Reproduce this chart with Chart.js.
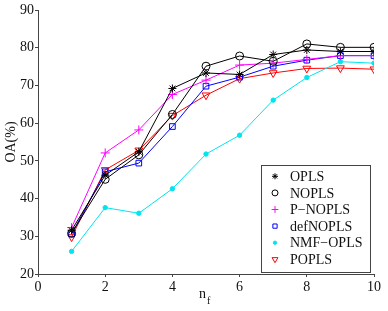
<!DOCTYPE html>
<html>
<head>
<meta charset="utf-8">
<script src="https://cdn.jsdelivr.net/npm/chart.js@4.4.1/dist/chart.umd.min.js"></script>
<style>
  html, body { margin: 0; padding: 0; background: #fff; }
  #caja { width: 388px; height: 311px; }
</style>
</head>
<body>
<div id="caja"><canvas id="grafico" width="388" height="311"></canvas></div>
<script>
// valores
const nf = [1, 2, 3, 4, 5, 6, 7, 8, 9, 10];
const series = ['OPLS', 'NOPLS', 'P\u2212NOPLS', 'defNOPLS', 'NMF\u2212OPLS', 'POPLS'];
const opls     = [31.6, 46.2, 52.4, 69.2, 73.3, 72.9, 78.2, 79.4, 79.0, 79.0];
const nopls    = [30.8, 45.1, 51.6, 62.3, 75.1, 77.8, 76.4, 81.0, 80.1, 80.1];
const pnopls   = [32.3, 52.1, 58.2, 67.6, 71.4, 75.4, 75.9, 76.9, 77.9, 77.9];
const defnopls = [30.6, 47.1, 49.4, 59.1, 69.8, 72.2, 75.1, 76.7, 77.9, 77.9];
const nmfopls  = [26.0, 37.6, 36.1, 42.6, 51.8, 56.8, 66.1, 72.1, 76.3, 75.9];
const popls    = [29.8, 47.6, 52.8, 62.0, 67.4, 71.8, 73.3, 74.5, 74.6, 74.3];
const ticksX = [0, 2, 4, 6, 8, 10];
const ticksY = [20, 30, 40, 50, 60, 70, 80, 90];

const fuente = "'Liberation Serif', 'Times New Roman', serif";
const puntos = valores => nf.map((x, i) => ({ x: x, y: valores[i] }));

function serie(nombre, valores, color, estilo, radio, relleno, giro) {
    return {
        label: nombre,
        data: puntos(valores),
        borderColor: color,
        backgroundColor: relleno,
        borderWidth: 1,
        pointStyle: estilo,
        pointRadius: radio,
        pointBorderWidth: 1,
        pointRotation: giro || 0,
        pointBackgroundColor: relleno,
        pointBorderColor: color,
        tension: 0,
        fill: false
    };
}

const data = {
    datasets: [
        serie(series[0], opls, '#000000', 'star', 4, 'rgba(0,0,0,0)'),
        serie(series[1], nopls, '#000000', 'circle', 4, 'rgba(0,0,0,0)'),
        serie(series[2], pnopls, '#ff00ff', 'cross', 4.5, 'rgba(0,0,0,0)'),
        serie(series[3], defnopls, '#0000ff', 'rect', 4, 'rgba(0,0,0,0)'),
        serie(series[4], nmfopls, '#00e5ee', 'circle', 2.2, '#00e5ee'),
        serie(series[5], popls, '#ff0000', 'triangle', 4.5, 'rgba(0,0,0,0)', 180)
    ]
};

// leyenda dentro del area del grafico y etiqueta n_f
const extras = {
    id: 'extras',
    afterDraw(chart) {
        const ctx = chart.ctx;
        ctx.save();
        // caja de la leyenda
        const bx = 261, by = 165, bw = 109, bh = 107;
        ctx.fillStyle = '#ffffff';
        ctx.fillRect(bx, by, bw, bh);
        ctx.strokeStyle = '#444444';
        ctx.lineWidth = 1;
        ctx.strokeRect(bx + 0.5, by + 0.5, bw, bh);
        ctx.font = '14px ' + fuente;
        ctx.textBaseline = 'middle';
        ctx.textAlign = 'left';
        chart.data.datasets.forEach((ds, i) => {
            const y = 176.3 + i * 16.6;
            ctx.strokeStyle = ds.pointBorderColor;
            ctx.fillStyle = ds.pointBackgroundColor;
            ctx.lineWidth = 1;
            Chart.helpers.drawPoint(ctx, {
                pointStyle: ds.pointStyle,
                rotation: ds.pointRotation,
                radius: ds.pointRadius * 0.75,
                borderWidth: 1
            }, 275, y);
            ctx.fillStyle = '#111111';
            ctx.fillText(ds.label, 290, y + 1);
        });
        // titulo del eje x: n con subindice f
        ctx.fillStyle = '#111111';
        ctx.textBaseline = 'alphabetic';
        ctx.font = '14px ' + fuente;
        ctx.fillText('n', 199, 298);
        ctx.font = '10px ' + fuente;
        ctx.fillText('f', 207, 304);
        ctx.restore();
    }
};

const config = {
    type: 'line',
    data: data,
    options: {
        responsive: false,
        animation: false,
        layout: { padding: { top: 10, right: 14, left: 0, bottom: 0 } },
        plugins: {
            legend: { display: false },
            tooltip: { enabled: false }
        },
        scales: {
            x: {
                type: 'linear',
                min: 0,
                max: 10,
                afterFit: scale => { scale.height = 37; },
                afterBuildTicks: scale => { scale.ticks = ticksX.map(v => ({ value: v })); },
                grid: { display: true, drawOnChartArea: false, drawTicks: true, tickLength: 3, color: '#444444' },
                border: { display: true, color: '#444444', width: 1 },
                ticks: { color: '#111111', font: { family: fuente, size: 14 }, padding: 2, maxRotation: 0 }
            },
            y: {
                min: 20,
                max: 90,
                afterFit: scale => { scale.width = 38; },
                afterBuildTicks: scale => { scale.ticks = ticksY.map(v => ({ value: v })); },
                grid: { display: true, drawOnChartArea: false, drawTicks: true, tickLength: 3, color: '#444444' },
                border: { display: true, color: '#444444', width: 1 },
                ticks: { color: '#111111', font: { family: fuente, size: 14 }, padding: 1 },
                title: { display: true, text: 'OA(%)', color: '#111111', font: { family: fuente, size: 14 }, padding: { top: 3, bottom: 0 } }
            }
        }
    },
    plugins: [extras]
};

const ctx = document.getElementById('grafico').getContext('2d');
new Chart(ctx, config);
</script>
</body>
</html>
